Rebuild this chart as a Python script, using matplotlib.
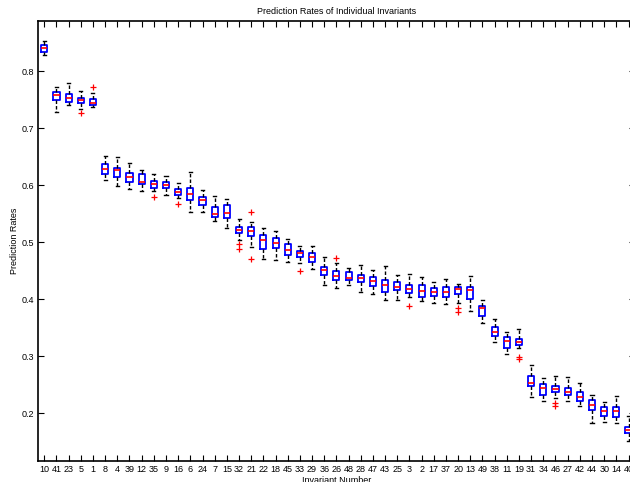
import matplotlib
matplotlib.use("Agg")
import matplotlib.pyplot as plt

plt.rcParams['font.family'] = ['Liberation Sans', 'DejaVu Sans']

invariants = ["10", "41", "23", "5", "1", "8", "4", "39", "12", "35", "9", "16", "6", "24",
              "7", "15", "32", "21", "22", "18", "45", "33", "29", "36", "26", "48", "28",
              "47", "43", "25", "3", "2", "17", "37", "20", "13", "49", "38", "11", "19",
              "31", "34", "46", "27", "42", "44", "30", "14", "40"]

whisker_hi = [0.8526, 0.7730, 0.7800, 0.7649, 0.7624, 0.6519, 0.6491, 0.6391, 0.6268, 0.6198,
              0.6168, 0.6040, 0.6228, 0.5918, 0.5818, 0.5754, 0.5404, 0.5362, 0.5251, 0.5204,
              0.5058, 0.4930, 0.4940, 0.4742, 0.4642, 0.4549, 0.4602, 0.4514, 0.4593, 0.4426,
              0.4444, 0.4397, 0.4304, 0.4351, 0.4274, 0.4409, 0.3988, 0.3654, 0.3432, 0.3479,
              0.2847, 0.2625, 0.2660, 0.2642, 0.2526, 0.2326, 0.2202, 0.2300, 0.1953]
upper_q = [0.8461, 0.7632, 0.7602, 0.7537, 0.7519, 0.6368, 0.6309, 0.6221, 0.6193, 0.6075,
           0.6053, 0.5930, 0.5947, 0.5800, 0.5625, 0.5654, 0.5274, 0.5263, 0.5133, 0.5081,
           0.4965, 0.4847, 0.4807, 0.4567, 0.4497, 0.4474, 0.4432, 0.4386, 0.4339, 0.4298,
           0.4246, 0.4246, 0.4198, 0.4211, 0.4221, 0.4221, 0.3888, 0.3509, 0.3344, 0.3304,
           0.2660, 0.2519, 0.2484, 0.2449, 0.2379, 0.2230, 0.2111, 0.2105, 0.1760]
medians = [0.8404, 0.7584, 0.7537, 0.7496, 0.7449, 0.6281, 0.6268, 0.6151, 0.6063, 0.6018,
           0.6005, 0.5877, 0.5842, 0.5747, 0.5502, 0.5519, 0.5221, 0.5198, 0.5037, 0.4983,
           0.4860, 0.4807, 0.4737, 0.4514, 0.4404, 0.4374, 0.4374, 0.4321, 0.4251, 0.4221,
           0.4176, 0.4146, 0.4123, 0.4123, 0.4181, 0.4160, 0.3856, 0.3426, 0.3274, 0.3246,
           0.2537, 0.2439, 0.2432, 0.2379, 0.2281, 0.2140, 0.2032, 0.2032, 0.1707]
lower_q = [0.8333, 0.7496, 0.7461, 0.7439, 0.7403, 0.6198, 0.6140, 0.6058, 0.6028, 0.5958,
           0.5947, 0.5830, 0.5742, 0.5654, 0.5449, 0.5421, 0.5158, 0.5116, 0.4886, 0.4905,
           0.4772, 0.4742, 0.4655, 0.4432, 0.4339, 0.4339, 0.4298, 0.4239, 0.4133, 0.4158,
           0.4105, 0.4046, 0.4063, 0.4046, 0.4093, 0.4000, 0.3712, 0.3351, 0.3151, 0.3193,
           0.2479, 0.2321, 0.2368, 0.2316, 0.2216, 0.2053, 0.1953, 0.1939, 0.1649]
whisker_lo = [0.8281, 0.7291, 0.7403, 0.7344, 0.7368, 0.6093, 0.5993, 0.5940, 0.5900, 0.5900,
              0.5830, 0.5772, 0.5537, 0.5526, 0.5379, 0.5246, 0.5035, 0.4912, 0.4707, 0.4690,
              0.4660, 0.4642, 0.4532, 0.4246, 0.4198, 0.4251, 0.4133, 0.4098, 0.3988, 0.3988,
              0.4046, 0.3976, 0.3941, 0.3918, 0.3941, 0.3795, 0.3590, 0.3246, 0.3035, 0.3140,
              0.2281, 0.2216, 0.2263, 0.2221, 0.2133, 0.1835, 0.1847, 0.1830, 0.1518]
outliers = {4: [0.7263], 5: [0.7725], 10: [0.5800], 12: [0.5677], 17: [0.4976, 0.4883],
            18: [0.5526, 0.4707], 22: [0.4502], 25: [0.4719], 31: [0.3888],
            35: [0.3853, 0.3772], 40: [0.2993, 0.2953], 43: [0.2186, 0.2133]}

stats = []
for i, name in enumerate(invariants):
    stats.append(dict(label=name, med=medians[i], q1=lower_q[i], q3=upper_q[i],
                      whislo=whisker_lo[i], whishi=whisker_hi[i],
                      fliers=outliers.get(i + 1, [])))

fig = plt.figure(figsize=(6.3, 4.82), dpi=100)
ax = fig.add_axes([38.2 / 630, 21 / 482, 596.4 / 630, 440.3 / 482])

ax.bxp(stats, positions=range(1, len(invariants) + 1), widths=0.5, capwidths=0.25,
       boxprops=dict(color=(0, 0, 1), linewidth=1.3),
       medianprops=dict(color=(1, 0, 0), linewidth=1.2),
       whiskerprops=dict(color='black', linewidth=1.0, linestyle=(0, (2.5, 1.5))),
       capprops=dict(color='black', linewidth=1.0),
       flierprops=dict(marker='+', markeredgecolor=(1, 0, 0), markersize=5,
                       markeredgewidth=0.9, linestyle='none'))

ax.set_xlim(0.5, len(invariants) + 0.5)
ax.set_ylim(0.1163, 0.8888)
ax.set_yticks([0.2, 0.3, 0.4, 0.5, 0.6, 0.7, 0.8])
ax.set_yticklabels(['0.2', '0.3', '0.4', '0.5', '0.6', '0.7', '0.8'])
ax.set_xticks(range(1, len(invariants) + 1))
ax.set_xticklabels(invariants)

ax.tick_params(direction='in', length=4, width=0.8, top=True, right=True,
               labelsize=6.5, pad=3, colors='black')
for s in ax.spines.values():
    s.set_linewidth(1.2)

ax.set_title('Prediction Rates of Individual Invariants', fontsize=6.5, pad=5)
ax.set_xlabel('Invariant Number', fontsize=6.5, labelpad=1)
ax.set_ylabel('Prediction Rates', fontsize=6.5, labelpad=1.5)

fig.savefig('out.png', dpi=100)
